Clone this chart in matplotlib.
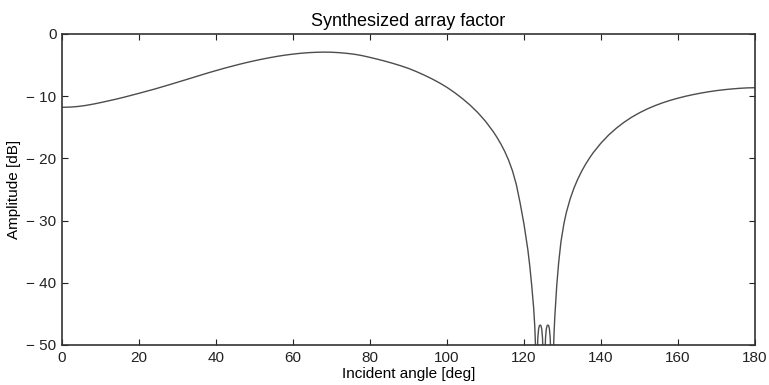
import matplotlib.pyplot as plt
from matplotlib.ticker import FuncFormatter

# values (incident angle in deg, amplitude in dB)
angle = [0, 2, 4, 6, 8, 10, 12, 14, 16, 18, 20, 22, 24, 26, 28, 30, 32, 34,
         36, 38, 40, 42, 44, 46, 48, 50, 52, 54, 56, 58, 60, 62, 64, 66, 68,
         70, 72, 74, 76, 78, 80, 82, 84, 86, 88, 90, 92, 94, 96, 98, 100,
         102, 104, 106, 108, 110, 112, 113, 114, 115, 116, 117, 118, 119,
         120, 121, 121.5, 122, 122.5, 122.8, 123.1, 123.3,
         123.4, 123.6, 123.8, 124.0, 124.2, 124.4, 124.6, 124.8, 125.0, 125.2,
         125.4, 125.6, 125.8, 126.0, 126.2, 126.4, 126.6, 126.8, 127.0, 127.3,
         127.6, 127.8, 128, 128.5, 129, 129.6, 130.4, 131, 132, 133, 134,
         135, 136, 137, 138, 140, 142, 144, 146, 148, 150, 152, 154, 156,
         158, 160, 162, 164, 166, 168, 170, 172, 174, 176, 178, 180]
amplitude = [-11.8, -11.77, -11.68, -11.52, -11.3, -11.05, -10.78, -10.5,
             -10.2, -9.88, -9.55, -9.22, -8.88, -8.52, -8.15, -7.78, -7.4,
             -7.02, -6.64, -6.26, -5.9, -5.55, -5.22, -4.9, -4.6, -4.32,
             -4.06, -3.82, -3.6, -3.41, -3.25, -3.12, -3.02, -2.96, -2.93,
             -2.95, -3.02, -3.13, -3.28, -3.5, -3.78, -4.08, -4.4, -4.75,
             -5.13, -5.55, -6.05, -6.6, -7.2, -7.86, -8.6,
             -9.45, -10.4, -11.45, -12.65, -14.05, -15.7, -16.65, -17.7,
             -18.9, -20.3, -22.0, -24.2, -27.2,
             -30.6, -34.7, -37.3, -40.4, -44.0, -47.0, -52.0, -60.0,
             -52.0, -48.8, -47.4, -46.9, -46.8, -46.9, -47.4, -48.8, -52.0,
             -60.0,
             -52.0, -48.8, -47.4, -46.9, -46.8, -46.9, -47.4, -48.8, -52.0,
             -60.0,
             -52.0, -48.2, -45.5, -40.5, -36.8, -33.4, -30.4, -28.7, -26.5,
             -24.75, -23.3,
             -22.05, -20.95, -19.97, -19.08, -17.55, -16.25, -15.15, -14.2,
             -13.38, -12.68, -12.07, -11.54, -11.08,
             -10.68, -10.33, -10.02, -9.75, -9.51, -9.3, -9.12, -8.97, -8.85,
             -8.75, -8.68, -8.65]

plt.rcParams['font.family'] = ['Liberation Sans', 'DejaVu Sans']

fig = plt.figure(figsize=(7.69, 3.85), dpi=100)
ax = fig.add_axes([0.0806, 0.104, 0.9012, 0.808])
ax.plot(angle, amplitude, color='#4d4d4d', linewidth=1.0)

ax.set_xlim(0, 180)
ax.set_ylim(-50, 0)
ax.set_xticks(range(0, 181, 20))
ax.set_yticks(range(-50, 1, 10))
ax.yaxis.set_major_formatter(FuncFormatter(
    lambda v, pos: '0' if v == 0 else '\u2212 %d' % abs(v)))
ax.tick_params(direction='in', top=True, right=True, length=4,
               labelsize=11, colors='#222222', pad=4)
for s in ax.spines.values():
    s.set_linewidth(1.2)
    s.set_color('#333333')

ax.set_xlabel('Incident angle [deg]', fontsize=11, labelpad=2)
ax.set_ylabel('Amplitude [dB]', fontsize=11, labelpad=4)
ax.set_title('Synthesized array factor', fontsize=13, pad=6)

fig.savefig('out.png', dpi=100)
